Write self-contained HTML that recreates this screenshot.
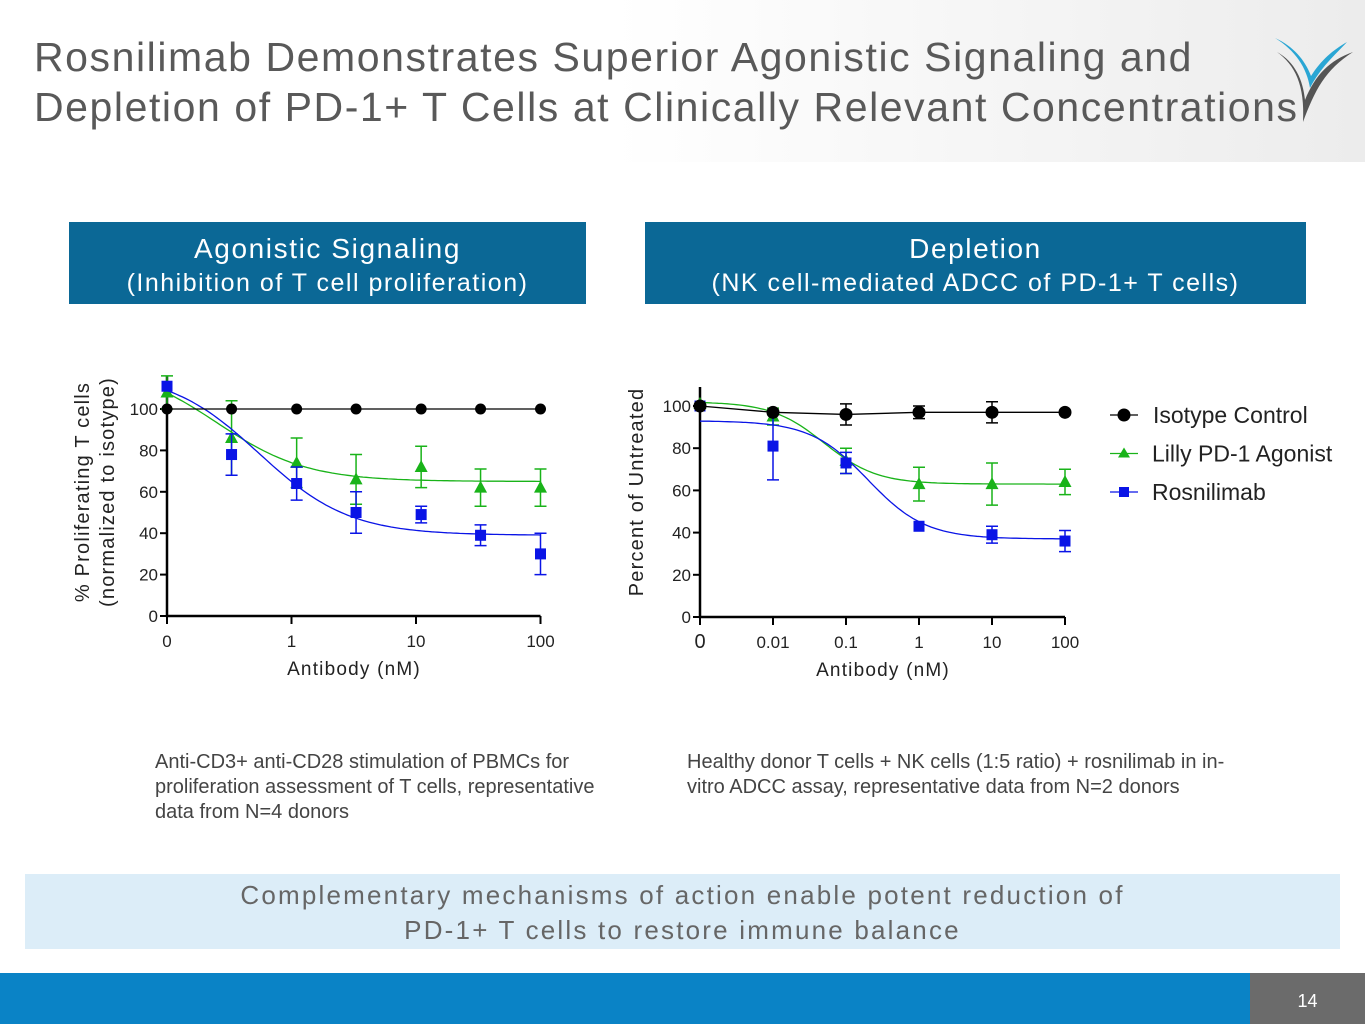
<!DOCTYPE html>
<html><head><meta charset="utf-8">
<style>
body{margin:0;width:1365px;height:1024px;position:relative;overflow:hidden;font-family:"Liberation Sans",sans-serif;background:#fff}
.hdr{position:absolute;left:0;top:0;width:1365px;height:162px;background:linear-gradient(90deg,#fff 0%,#fff 45%,#ececec 100%)}
.title{position:absolute;left:34px;top:32px;font-size:41px;line-height:50px;color:#595959;letter-spacing:1.57px;white-space:nowrap}
.box{position:absolute;top:222px;height:82px;background:#0b6896;color:#fff;text-align:center;font-size:28px;line-height:33px;letter-spacing:1.6px;box-sizing:border-box;padding-top:10px}
.box .sub{font-size:25px;letter-spacing:1.5px}
.note{position:absolute;font-size:20px;line-height:25px;color:#444;white-space:nowrap}
.banner{position:absolute;left:25px;top:874px;width:1315px;height:75px;background:#dcedf8;color:#666;text-align:center;font-size:26px;line-height:35px;letter-spacing:2.2px;padding-top:4px;box-sizing:border-box}
.foot{position:absolute;left:0;top:973px;width:1250px;height:51px;background:#0a83c6}
.pg{position:absolute;left:1250px;top:973px;width:115px;height:51px;background:#6b6b6b;color:#fff;font-size:18px;text-align:center;line-height:56px}
</style></head><body>
<div class="hdr"></div>
<div class="title">Rosnilimab Demonstrates Superior Agonistic Signaling and<br>Depletion of PD-1+ T Cells at Clinically Relevant Concentrations</div>
<svg style="position:absolute;left:1275px;top:30px" width="80" height="95" viewBox="0 0 80 95">
<path d="M2 22 C20 35 30 55 28 92 C40 60 50 40 78 22 C55 30 40 45 30 70 C28 50 20 32 2 22Z" fill="#555"/>
<path d="M0 8 C20 20 32 38 35 58 C45 38 60 25 72 12 C58 20 46 30 36 46 C30 30 18 16 0 8Z" fill="#2aa6d4"/>
</svg>
<div class="box" style="left:69px;width:517px">Agonistic Signaling<br><span class="sub">(Inhibition of T cell proliferation)</span></div>
<div class="box" style="left:645px;width:661px">Depletion<br><span class="sub">(NK cell-mediated ADCC of PD-1+ T cells)</span></div>

<svg id="c1" style="position:absolute;left:0;top:0" width="1365" height="1024"></svg>

<div class="note" style="left:155px;top:750px">Anti-CD3+ anti-CD28 stimulation of PBMCs for<br>proliferation assessment of T cells, representative<br>data from N=4 donors</div>
<div class="note" style="left:687px;top:750px">Healthy donor T cells + NK cells (1:5 ratio) + rosnilimab in in-<br>vitro ADCC assay, representative data from N=2 donors</div>
<div class="banner">Complementary mechanisms of action enable potent reduction of<br>PD-1+ T cells to restore immune balance</div>
<div class="foot"></div>
<div class="pg">14</div>

<script>
// ---- Chart 1 data ----
const c1Conc=[0,0.33,1.1,3.3,11,33,100];
const c1Iso=[100,100,100,100,100,100,100];
const c1Lilly=[108,86,74,66,72,62,62];
const c1LillyErr=[8,18,12,12,10,9,9];
const c1Ros=[111,78,64,50,49,39,30];
const c1RosErr=[0,10,8,10,4,5,10];
const c1LillyFit=[122,65,0.25,1.2];
const c1RosFit=[118,39,0.55,1.2];
const c1XTicks=[0,1,10,100];
const c1XLabels=["0","1","10","100"];
const c1YTicks=[0,20,40,60,80,100];
// ---- Chart 2 data ----
const c2Conc=[0,0.01,0.1,1,10,100];
const c2Iso=[100,97,96,97,97,97];
const c2IsoErr=[0,0,5,3,5,0];
const c2Lilly=[101,95,74,63,63,64];
const c2LillyErr=[0,4,6,8,10,6];
const c2Ros=[100,81,73,43,39,36];
const c2RosErr=[0,16,5,0,4,5];
const c2LillyFit=[102,63,0.05,1.2];
const c2RosFit=[93,37,0.2,1.1];
const c2XTicks=[0,0.01,0.1,1,10,100];
const c2XLabels=["0","0.01","0.1","1","10","100"];
const c2YTicks=[0,20,40,60,80,100];

const svg=document.getElementById('c1');
const NS='http://www.w3.org/2000/svg';
function mk(tag,attrs,parent){const e=document.createElementNS(NS,tag);for(const k in attrs)e.setAttribute(k,attrs[k]);(parent||svg).appendChild(e);return e;}

function chart(cfg){
  const g=mk('g',{});
  
  
  const zeroLog=cfg.zeroLog;
  const lx=c=>c<=0?zeroLog:Math.log10(c);
  const X=c=>cfg.x0+(lx(c)-zeroLog)*cfg.dec;
  const Y=v=>cfg.y0-v*cfg.py;
  const fit=(p,c)=>p[1]+(p[0]-p[1])/(1+Math.pow(c/p[2],p[3]));
  const ax=mk('path',{d:`M${cfg.x0} ${Y(cfg.ymax)}V${cfg.y0}H${X(100)}`,stroke:'#000','stroke-width':2.5,fill:'none'},g);
  
  
  cfg.yt.forEach(v=>{
    mk('line',{x1:cfg.x0-7,x2:cfg.x0,y1:Y(v),y2:Y(v),stroke:'#000','stroke-width':2},g);
    const t=mk('text',{x:cfg.x0-9,y:Y(v)+6,'text-anchor':'end','font-size':17,fill:'#222'},g);t.textContent=v;
    
    
  });
  cfg.xt.forEach((c,i)=>{
    mk('line',{x1:X(c),x2:X(c),y1:cfg.y0,y2:cfg.y0+8,stroke:'#000','stroke-width':2},g);
    const t=mk('text',{x:X(c),y:cfg.y0+31,'text-anchor':'middle','font-size':i==0?cfg.zfs:17,fill:'#222'},g);t.textContent=cfg.xl[i];
    
    
  });
  const xt=mk('text',{x:cfg.xtx,y:cfg.y0+59,'text-anchor':'middle','font-size':19,fill:'#222','letter-spacing':1.2},g);xt.textContent='Antibody (nM)';
  
  
  cfg.ytitle.forEach((s,i)=>{
    const t=mk('text',{transform:`translate(${cfg.ytx[i]},${cfg.yty}) rotate(-90)`,'text-anchor':'middle','font-size':20,fill:'#222','letter-spacing':1.2},g);t.textContent=s;
    
    
  });
  cfg.series.forEach(s=>{
    const sg=mk('g',{},g);
    
    
    if(s.fit){
      let d='';const a=zeroLog,b=2;
      for(let i=0;i<=120;i++){const l=a+(b-a)*i/120;const c=Math.pow(10,l);d+=(i?'L':'M')+(cfg.x0+(l-zeroLog)*cfg.dec).toFixed(1)+' '+Y(fit(s.fit,c)).toFixed(1);}
      mk('path',{d,stroke:s.color,'stroke-width':1.3,fill:'none'},sg);
    } else {
      mk('path',{d:s.vals.map((v,i)=>(i?'L':'M')+X(s.conc[i])+' '+Y(v)).join(''),stroke:s.color,'stroke-width':1.3,fill:'none'},sg);
    }
    s.vals.forEach((v,i)=>{
      const x=X(s.conc[i]),y=Y(v),e=s.err?s.err[i]:0;
      if(e>0){
        mk('path',{d:`M${x} ${Y(v-e)}V${Y(v+e)}M${x-6} ${Y(v-e)}H${x+6}M${x-6} ${Y(v+e)}H${x+6}`,stroke:s.color,'stroke-width':1.5,fill:'none'},sg);
      }
      let m;
      if(s.shape=='c')m=mk('circle',{cx:x,cy:y,r:s.r,fill:s.color},sg);
      else if(s.shape=='s')m=mk('rect',{x:x-5.5,y:y-5.5,width:11,height:11,fill:s.color},sg);
      else m=mk('path',{d:`M${x} ${y-7}L${x+6.5} ${y+5}L${x-6.5} ${y+5}Z`,fill:s.color},sg);
      
      
    });
  });
}
const GR='#19b319',BL='#0a14e6';
chart({name:'proliferation-plot',x0:167,y0:616,py:2.07,dec:124.5,zeroLog:-1,ymax:116,yt:c1YTicks,xt:c1XTicks,xl:c1XLabels,zfs:17,xtx:354,
 ytitle:['% Proliferating T cells','(normalized to isotype)'],ytx:[89,114],yty:492,
 series:[
  {name:'lilly-series',conc:c1Conc,vals:c1Lilly,err:c1LillyErr,fit:c1LillyFit,color:GR,shape:'t'},
  {name:'rosnilimab-series',conc:c1Conc,vals:c1Ros,err:c1RosErr,fit:c1RosFit,color:BL,shape:'s'},
  {name:'isotype-series',conc:c1Conc,vals:c1Iso,color:'#000',shape:'c',r:5.5}]});
chart({name:'depletion-plot',x0:700,y0:617,py:2.11,dec:73,zeroLog:-3,ymax:109,yt:c2YTicks,xt:c2XTicks,xl:c2XLabels,zfs:20,xtx:883,
 ytitle:['Percent of Untreated'],ytx:[643],yty:492,
 series:[
  {name:'lilly-series',conc:c2Conc,vals:c2Lilly,err:c2LillyErr,fit:c2LillyFit,color:GR,shape:'t'},
  {name:'rosnilimab-series',conc:c2Conc,vals:c2Ros,err:c2RosErr,fit:c2RosFit,color:BL,shape:'s'},
  {name:'isotype-series',conc:c2Conc,vals:c2Iso,err:c2IsoErr,color:'#000',shape:'c',r:6.5}]});
const legNames=['Isotype Control','Lilly PD-1 Agonist','Rosnilimab'];
const legColors=['#000',GR,BL];
const lg=mk('g',{});


legNames.forEach((n,i)=>{
  const y=415+i*38.5;
  const eg=mk('g',{},lg);
  
  
  mk('line',{x1:1110,x2:1138,y1:y,y2:y,stroke:legColors[i],'stroke-width':1.3},eg);
  if(i==0)mk('circle',{cx:1124,cy:y,r:6.5,fill:'#000'},eg);
  else if(i==1)mk('path',{d:`M1124 ${y-6}L1130 ${y+4}L1118 ${y+4}Z`,fill:GR},eg);
  else mk('rect',{x:1119,y:y-5,width:10,height:10,fill:BL},eg);
  const t=mk('text',{x:i==0?1153:1152,y:y+8,'font-size':23,fill:'#222'},eg);t.textContent=n;
});
</script>
</body></html>
